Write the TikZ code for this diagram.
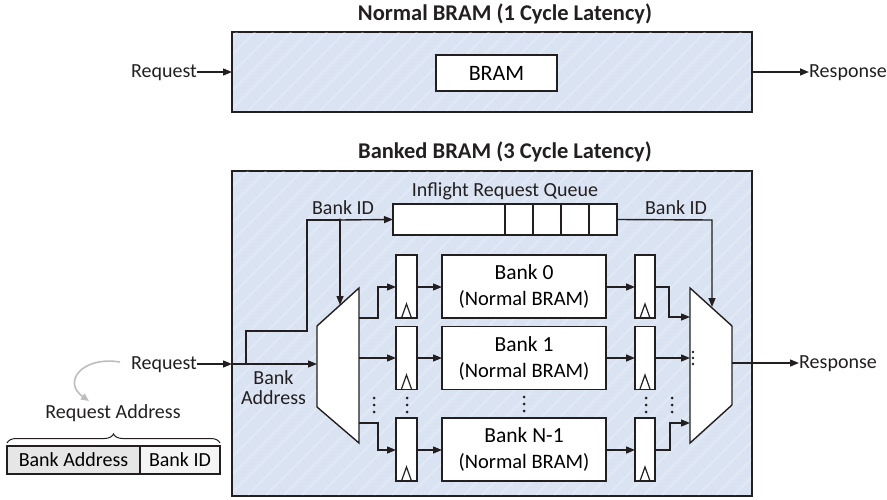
\documentclass[tikz,border=0pt]{standalone}
\usepackage{fontspec}
\setmainfont{Carlito}
\usetikzlibrary{arrows.meta,decorations.pathreplacing,calc}
\definecolor{ink}{HTML}{231F20}
\definecolor{panel}{HTML}{DAE3F2}
\definecolor{fieldA}{HTML}{E6E6E6}
\definecolor{fieldB}{HTML}{F4F4F4}
\definecolor{hint}{HTML}{BDBDBD}
\tikzset{
  wire/.style={draw=ink, line width=1.4pt},
  arr/.style={wire, -{Triangle[length=9pt,width=7pt]}},
  blk/.style={draw=ink, line width=1.4pt, fill=white, inner sep=0pt, outer sep=0pt},
  panelbox/.style={draw=ink, line width=1.4pt, fill=panel, inner sep=0pt, outer sep=0pt},
  txt/.style={inner sep=0pt, font=\fontsize{20}{24}\selectfont, text=ink},
  ttl/.style={txt, font=\fontsize{22.5}{26}\selectfont\bfseries},
  dotc/.style={fill=ink, draw=none, circle, minimum size=3.2pt, inner sep=0pt},
}
\newcommand{\stripes}[4]{% x1 y1 x2 y2 : light diagonal sheen inside a panel
  \begin{scope}
    \clip (#1,#2) rectangle (#3,#4);
    \foreach \s in {-400,-382,...,900}
      \draw[white, opacity=0.28, line width=1.6pt] (\s,#4) -- ++(400,-400);
  \end{scope}}
\newcommand{\dotcol}[2]{% three stacked dots centred at x=#1, y=#2
  \foreach \d in {-7,0,7} \fill[ink] (#1,#2+\d) circle (1.5pt);}
\newcommand{\clockmark}[2]{% clock triangle on the bottom edge of a register
  \draw[ink, line width=1.2pt] (#1-5,#2) -- (#1,#2-14) -- (#1+5,#2);}
\begin{document}
\begin{tikzpicture}[x=1pt,y=-1pt]
\useasboundingbox (0,0) rectangle (887,500);

% ---------- single-cycle block ----------
\node[ttl] (t1) at (505,14) {Normal BRAM (1 Cycle Latency)};
\node[panelbox, minimum width=520pt, minimum height=80pt] (nbox) at (492,72) {};
\stripes{233}{33}{751}{111}
\node[blk, minimum width=121pt, minimum height=36pt, font=\fontsize{22}{26}\selectfont] (bram) at (496.5,73) {BRAM};
\node[txt, anchor=east] (req1) at (197,73) {Request};
\node[txt, anchor=west] (resp1) at (809,73) {Response};
\draw[arr] (req1.east |- nbox.west) -- (nbox.west);
\draw[arr] (nbox.east) -- (resp1.west |- nbox.east);

% ---------- banked block ----------
\node[ttl] (t2) at (505,152) {Banked BRAM (3 Cycle Latency)};
\node[panelbox, minimum width=520pt, minimum height=325pt] (bbox) at (492,333.5) {};
\stripes{233}{172}{751}{495}

% inflight queue
\node[txt] (qlbl) at (505,191) {Inflight Request Queue};
\node[blk, minimum width=224pt, minimum height=31pt] (queue) at (505,219.5) {};
\foreach \x in {505,533,561,589} \draw[ink, line width=1.4pt] (\x,204) -- (\x,235);

% input demultiplexer
\draw[blk] (317,326) -- (359,288) -- (359,443) -- (317,407) -- cycle;
\coordinate (dmIn) at (317,364);
% output multiplexer
\draw[blk] (690,288) -- (732,326) -- (732,405) -- (690,443) -- cycle;
\coordinate (mxOut) at (732,363);

% registers and banks
\foreach \r/\yt/\yb/\yc/\name in {0/255/318/287/Bank 0, 1/327/389/358/Bank 1, 2/418/481/450/Bank N-1}{
  \node[blk, minimum width=21pt, minimum height=63pt] (rl\r) at (406.5,{(\yt+\yb)/2}) {};
  \node[blk, minimum width=164pt, minimum height=63pt, align=center,
        font=\fontsize{20.5}{26}\selectfont] (bk\r) at (524,{(\yt+\yb)/2}) {{\fontsize{21.5}{26}\selectfont\name}\\(Normal BRAM)};
  \node[blk, minimum width=20pt, minimum height=63pt] (rr\r) at (645,{(\yt+\yb)/2}) {};
  \clockmark{406.5}{\yb}
  \clockmark{645}{\yb}
  \draw[arr] (rl\r.east |- 0,\yc) -- (bk\r.west |- 0,\yc);
  \draw[arr] (bk\r.east |- 0,\yc) -- (rr\r.west |- 0,\yc);
}

% request path
\node[txt, anchor=east] (req2) at (197,365) {Request};
\coordinate (bIn) at (232,364);
\draw[arr] (req2.east |- bIn) -- (bIn);
\draw[arr] (bIn) -- (dmIn);
\node[txt, align=center, font=\fontsize{20}{20}\selectfont] (bal) at (273.5,388) {Bank\\Address};

% bank id into queue and demux select
\coordinate (tap) at (340,220);
\draw[wire] (246,364) -- (246,331) -- (307,331) -- (307,220) -- (tap);
\draw[arr] (tap) -- (queue.west);
\node[dotc] at (tap) {};
\draw[arr] (tap) -- (340,305);
\node[txt] (bid1) at (343,208) {Bank ID};

% demux outputs to left registers
\draw[arr] (359,318) -- (378,318) -- (378,287) -- (rl0.west |- 0,287);
\draw[arr] (359,358) -- (rl1.west |- 0,358);
\draw[arr] (359,423) -- (378,423) -- (378,450) -- (rl2.west |- 0,450);

% right registers into mux
\draw[arr] (rr0.east |- 0,287) -- (669,287) -- (669,317) -- (690,317);
\draw[arr] (rr1.east |- 0,358) -- (690,358);
\draw[arr] (rr2.east |- 0,450) -- (670,450) -- (670,423) -- (690,423);

% queue head to mux select
\draw[arr] (queue.east) -- (712,220) -- (712,307);
\node[txt] (bid2) at (676,208) {Bank ID};

% response
\node[txt, anchor=west] (resp2) at (799,364) {Response};
\draw[arr] (mxOut) -- (resp2.west |- mxOut);

% ellipsis marks
\dotcol{374}{405}
\dotcol{407}{405}
\dotcol{524}{404}
\dotcol{646}{405}
\dotcol{672}{405}
\foreach \d in {-6,0,6} \fill[ink] (693,358+\d) circle (1.4pt);

% ---------- request address format ----------
\node[txt] (ral) at (113,413) {Request Address};
\draw[hint, line width=1.6pt, -{Triangle[length=8pt,width=7pt]}]
  (120,362) .. controls (82,356) and (62,382) .. (89,401);
\draw[ink, line width=1pt, decorate, decoration={brace, amplitude=9pt}] (7,443) -- (220,443);
\node[draw=ink, line width=1.4pt, fill=fieldA, minimum width=133pt, minimum height=28pt, inner sep=0pt,
      font=\fontsize{20}{24}\selectfont] (fa) at (73.5,460) {Bank Address};
\node[draw=ink, line width=1.4pt, fill=fieldB, minimum width=80pt, minimum height=28pt, inner sep=0pt,
      font=\fontsize{20}{24}\selectfont] (fb) at (180,460) {Bank ID};
\end{tikzpicture}
\end{document}
